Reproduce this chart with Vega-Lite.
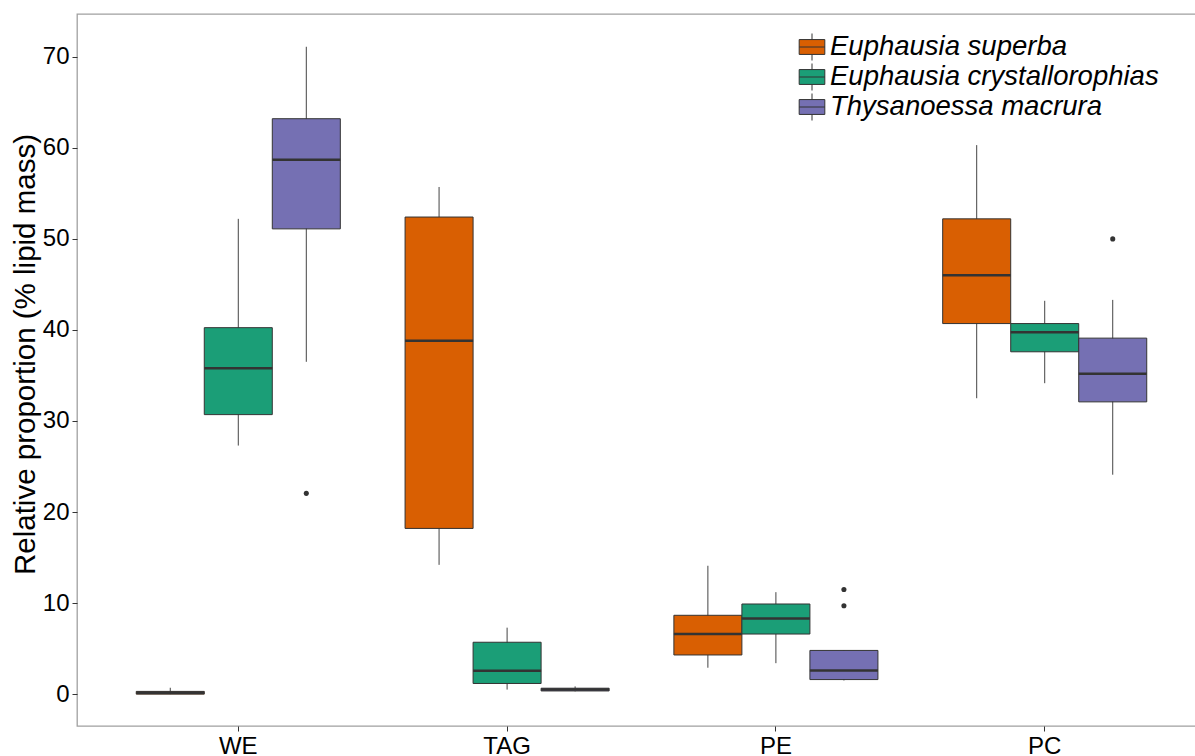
{
  "$schema": "https://vega.github.io/schema/vega-lite/v6.json",
  "width": 1129,
  "height": 712,
  "autosize": {"type": "none"},
  "padding": {"left": 77, "top": 14, "right": 0, "bottom": 30},
  "background": "white",
  "config": {
    "font": "Liberation Sans",
    "view": {"stroke": "#a0a0a0", "strokeWidth": 1.3},
    "axis": {"grid": false, "domain": false, "labelColor": "#000000", "titleColor": "#000000", "tickColor": "#333333", "tickSize": 5, "labelFontSize": 24, "titleFontSize": 29.5, "titleFontWeight": "normal"}
  },
  "datasets": {
    "boxes": [
      {"lipid": "WE", "species": "Euphausia superba", "lower": 0.0, "q1": 0.0, "median": 0.15, "q3": 0.3, "upper": 0.7},
      {"lipid": "WE", "species": "Euphausia crystallorophias", "lower": 27.3, "q1": 30.7, "median": 35.8, "q3": 40.25, "upper": 52.2},
      {"lipid": "WE", "species": "Thysanoessa macrura", "lower": 36.5, "q1": 51.1, "median": 58.7, "q3": 63.2, "upper": 71.1},
      {"lipid": "TAG", "species": "Euphausia superba", "lower": 14.2, "q1": 18.2, "median": 38.8, "q3": 52.4, "upper": 55.7},
      {"lipid": "TAG", "species": "Euphausia crystallorophias", "lower": 0.5, "q1": 1.17, "median": 2.56, "q3": 5.7, "upper": 7.3},
      {"lipid": "TAG", "species": "Thysanoessa macrura", "lower": 0.3, "q1": 0.35, "median": 0.5, "q3": 0.65, "upper": 0.85},
      {"lipid": "PE", "species": "Euphausia superba", "lower": 2.9, "q1": 4.3, "median": 6.6, "q3": 8.66, "upper": 14.1},
      {"lipid": "PE", "species": "Euphausia crystallorophias", "lower": 3.4, "q1": 6.6, "median": 8.3, "q3": 9.9, "upper": 11.2},
      {"lipid": "PE", "species": "Thysanoessa macrura", "lower": 1.5, "q1": 1.6, "median": 2.6, "q3": 4.8, "upper": 4.8},
      {"lipid": "PC", "species": "Euphausia superba", "lower": 32.5, "q1": 40.7, "median": 46.0, "q3": 52.2, "upper": 60.3},
      {"lipid": "PC", "species": "Euphausia crystallorophias", "lower": 34.15, "q1": 37.6, "median": 39.75, "q3": 40.7, "upper": 43.2},
      {"lipid": "PC", "species": "Thysanoessa macrura", "lower": 24.1, "q1": 32.1, "median": 35.2, "q3": 39.1, "upper": 43.3}
    ],
    "outliers": [
      {"lipid": "WE", "species": "Thysanoessa macrura", "value": 22.05},
      {"lipid": "PE", "species": "Thysanoessa macrura", "value": 11.5},
      {"lipid": "PE", "species": "Thysanoessa macrura", "value": 9.7},
      {"lipid": "PC", "species": "Thysanoessa macrura", "value": 50.0}
    ]
  },
  "layer": [
    {
      "data": {"name": "boxes"},
      "mark": {"type": "rule", "color": "#444444", "strokeWidth": 1},
      "encoding": {
        "x": {"field": "lipid", "type": "nominal", "sort": ["WE", "TAG", "PE", "PC"], "scale": {"type": "band", "paddingInner": 0, "paddingOuter": 0.1}, "axis": {"title": null, "labelAngle": 0, "labelPadding": 3, "labelFontSize": 24}},
        "xOffset": {"field": "species", "type": "nominal", "sort": ["Euphausia superba", "Euphausia crystallorophias", "Thysanoessa macrura"], "scale": {"paddingInner": 0, "paddingOuter": 0.476}},
        "y": {"field": "lower", "type": "quantitative", "scale": {"domain": [-3.5, 74.7], "nice": false, "zero": false}, "axis": {"title": "Relative proportion (% lipid mass)", "values": [0, 10, 20, 30, 40, 50, 60, 70], "labelPadding": 3, "titlePadding": 2, "titleY": 340}},
        "y2": {"field": "upper"}
      }
    },
    {
      "data": {"name": "boxes"},
      "mark": {"type": "bar", "stroke": "#333333", "strokeWidth": 1, "opacity": 1},
      "encoding": {
        "x": {"field": "lipid", "type": "nominal", "sort": ["WE", "TAG", "PE", "PC"]},
        "xOffset": {"field": "species", "type": "nominal", "sort": ["Euphausia superba", "Euphausia crystallorophias", "Thysanoessa macrura"]},
        "y": {"field": "q1", "type": "quantitative"},
        "y2": {"field": "q3"},
        "color": {
          "field": "species", "type": "nominal",
          "scale": {"domain": ["Euphausia superba", "Euphausia crystallorophias", "Thysanoessa macrura"], "range": ["#D95F02", "#1B9E77", "#7570B3"]},
          "legend": {
            "title": null, "orient": "none", "legendX": 721, "legendY": 19,
            "symbolType": "M-0.95,-0.55H0.95V0.55H-0.95Z M-0.95,0H0.95 M0,-0.55V-1 M0,0.55V1",
            "symbolSize": 729, "symbolStrokeColor": "#333333", "symbolStrokeWidth": 1, "symbolOpacity": 1,
            "labelFontSize": 27.5, "labelFontStyle": "italic", "labelColor": "#000000", "labelOffset": 4,
            "rowPadding": -2.5, "padding": 0, "labelLimit": 500
          }
        }
      }
    },
    {
      "data": {"name": "boxes"},
      "mark": {"type": "tick", "orient": "horizontal", "color": "#333333", "size": 68, "thickness": 2.5, "opacity": 1},
      "encoding": {
        "x": {"field": "lipid", "type": "nominal", "sort": ["WE", "TAG", "PE", "PC"]},
        "xOffset": {"field": "species", "type": "nominal", "sort": ["Euphausia superba", "Euphausia crystallorophias", "Thysanoessa macrura"]},
        "y": {"field": "median", "type": "quantitative"}
      }
    },
    {
      "data": {"name": "outliers"},
      "mark": {"type": "circle", "color": "#333333", "size": 26, "opacity": 1},
      "encoding": {
        "x": {"field": "lipid", "type": "nominal", "sort": ["WE", "TAG", "PE", "PC"]},
        "xOffset": {"field": "species", "type": "nominal", "sort": ["Euphausia superba", "Euphausia crystallorophias", "Thysanoessa macrura"]},
        "y": {"field": "value", "type": "quantitative"}
      }
    }
  ]
}
